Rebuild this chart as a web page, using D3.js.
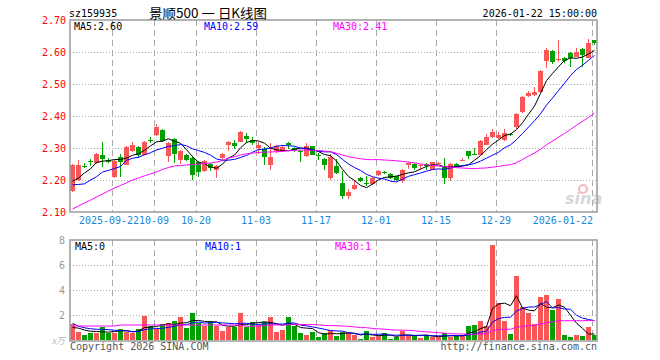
<!DOCTYPE html>
<html><head><meta charset="utf-8">
<script src="https://cdn.jsdelivr.net/npm/d3@7"></script>
<style>body{margin:0;background:#fff}svg{display:block}</style>
</head><body><svg id="c" width="660" height="360"></svg>
<script>
const dates = ["2025-09-11","2025-09-12","2025-09-15","2025-09-16","2025-09-17","2025-09-18","2025-09-19","2025-09-22","2025-09-23","2025-09-24","2025-09-25","2025-09-26","2025-09-29","2025-09-30",
"2025-10-09","2025-10-10","2025-10-13","2025-10-14","2025-10-15","2025-10-16","2025-10-17","2025-10-20","2025-10-21","2025-10-22","2025-10-23","2025-10-24","2025-10-27","2025-10-28","2025-10-29","2025-10-30","2025-10-31",
"2025-11-03","2025-11-04","2025-11-05","2025-11-06","2025-11-07","2025-11-10","2025-11-11","2025-11-12","2025-11-13","2025-11-14","2025-11-17","2025-11-18","2025-11-19","2025-11-20","2025-11-21","2025-11-24","2025-11-25","2025-11-26","2025-11-27","2025-11-28",
"2025-12-01","2025-12-02","2025-12-03","2025-12-04","2025-12-05","2025-12-08","2025-12-09","2025-12-10","2025-12-11","2025-12-12","2025-12-15","2025-12-16","2025-12-17","2025-12-18","2025-12-19","2025-12-22","2025-12-23","2025-12-24","2025-12-25","2025-12-26","2025-12-29","2025-12-30","2025-12-31",
"2026-01-05","2026-01-06","2026-01-07","2026-01-08","2026-01-09","2026-01-12","2026-01-13","2026-01-14","2026-01-15","2026-01-16","2026-01-19","2026-01-20","2026-01-21","2026-01-22"];

const opens = [2.167,2.200,2.245,2.258,2.252,2.278,2.262,2.209,2.273,2.248,2.290,2.303,2.279,2.325,
2.340,2.356,2.276,2.328,2.262,2.278,2.269,2.255,2.229,2.250,2.232,2.268,2.310,2.316,2.320,2.338,2.325,
2.300,2.296,2.248,2.290,2.292,2.316,2.300,2.290,2.275,2.305,2.278,2.266,2.206,2.245,2.190,2.151,2.172,2.206,2.190,2.186,
2.216,2.225,2.220,2.212,2.196,2.248,2.251,2.243,2.250,2.232,2.251,2.240,2.206,2.250,2.261,2.290,2.280,2.279,2.310,2.334,2.332,2.326,2.345,
2.365,2.413,2.463,2.466,2.474,2.572,2.603,2.575,2.582,2.598,2.585,2.610,2.582,2.637];
const closes = [2.247,2.248,2.243,2.256,2.280,2.267,2.257,2.260,2.255,2.304,2.310,2.279,2.318,2.323,
2.365,2.322,2.316,2.280,2.292,2.263,2.217,2.224,2.260,2.238,2.245,2.281,2.319,2.306,2.351,2.328,2.315,
2.310,2.272,2.271,2.305,2.302,2.308,2.295,2.288,2.307,2.279,2.275,2.248,2.273,2.222,2.149,2.164,2.184,2.197,2.186,2.206,
2.229,2.222,2.205,2.200,2.232,2.253,2.237,2.248,2.243,2.255,2.253,2.206,2.250,2.244,2.264,2.274,2.278,2.322,2.335,2.350,2.341,2.348,2.343,
2.405,2.458,2.473,2.476,2.540,2.606,2.570,2.578,2.573,2.580,2.600,2.590,2.627,2.627];
const highs = [2.249,2.262,2.252,2.266,2.284,2.320,2.270,2.262,2.280,2.306,2.318,2.306,2.322,2.335,
2.375,2.358,2.318,2.330,2.294,2.282,2.276,2.258,2.264,2.252,2.248,2.283,2.321,2.325,2.353,2.348,2.335,
2.320,2.302,2.315,2.308,2.306,2.319,2.304,2.295,2.315,2.307,2.285,2.268,2.280,2.265,2.227,2.172,2.200,2.208,2.214,2.208,
2.231,2.228,2.222,2.214,2.234,2.255,2.253,2.250,2.252,2.257,2.255,2.270,2.252,2.252,2.268,2.292,2.300,2.326,2.345,2.360,2.350,2.360,2.348,
2.408,2.461,2.479,2.490,2.545,2.611,2.605,2.637,2.585,2.600,2.612,2.612,2.640,2.639];
const lows = [2.163,2.198,2.236,2.244,2.250,2.240,2.252,2.205,2.208,2.246,2.288,2.270,2.277,2.315,
2.338,2.320,2.255,2.253,2.250,2.260,2.200,2.210,2.225,2.229,2.206,2.261,2.290,2.297,2.318,2.317,2.308,
2.282,2.248,2.232,2.285,2.289,2.296,2.288,2.257,2.273,2.277,2.264,2.230,2.200,2.218,2.140,2.140,2.170,2.195,2.182,2.184,
2.214,2.219,2.203,2.198,2.190,2.235,2.230,2.230,2.232,2.230,2.249,2.187,2.196,2.240,2.259,2.266,2.277,2.277,2.308,2.332,2.328,2.322,2.338,
2.359,2.410,2.460,2.464,2.472,2.551,2.562,2.570,2.566,2.554,2.583,2.554,2.580,2.622];
const volumes = [1.28,0.64,0.40,0.59,0.53,1.07,0.59,0.59,0.88,0.67,0.59,0.88,1.92,1.12,
0.85,1.28,1.33,1.52,1.81,0.96,2.16,1.39,1.12,1.52,1.12,0.72,1.07,1.07,2.16,1.07,1.44,
1.17,1.47,1.84,0.64,0.80,1.84,1.15,0.56,0.40,0.64,0.21,0.53,0.80,0.32,0.67,0.53,0.40,0.08,0.72,0.27,
0.32,0.53,0.11,0.21,0.75,0.40,0.32,0.16,0.40,0.27,0.21,0.53,0.27,0.37,0.37,1.12,1.20,1.52,1.12,7.60,2.96,1.55,0.48,
5.12,2.64,2.16,1.28,3.44,3.60,2.40,3.28,0.40,0.24,0.40,0.32,1.04,0.40];

const ma5Head = [2.196,2.206,2.222,2.235];
const ma10Head = [2.185,2.186,2.188,2.200,2.210,2.225,2.230,2.236,2.242];
const ma30Head = [2.109,2.119,2.128,2.137,2.147,2.156,2.166,2.175,2.183,2.191,2.200,2.206,2.213,2.219,2.225,2.233,2.239,2.244,2.245,2.247,2.248,2.250,2.252,2.253,2.256,2.261,2.269,2.273,2.278];
const vma5Head = [1.00,0.95,0.80,0.70];
const vma10Head = [1.35,1.10,0.98,0.90,0.86,0.85,0.83,0.78,0.75];
const vma30Head = [1.12,1.12,1.12,1.12,1.12,1.12,1.12,1.12,1.20,1.20,1.20,1.20,1.20,1.20,1.20,1.20,1.20,1.20,1.20,1.20,1.20,1.20,1.20,1.20,1.20,1.20,1.20,1.20,1.20];

const priceTicks = [2.10,2.20,2.30,2.40,2.50,2.60,2.70];
const volTicks = [2,4,6,8];
const tickDates = ["2025-09-22","2025-10-09","2025-10-20","2025-11-03","2025-11-17","2025-12-01","2025-12-15","2025-12-29","2026-01-22"];
const tickLabels = ["2025-09-22","10-09","10-20","11-03","11-17","12-01","12-15","12-29","2026-01-22"];
const mainLegend = ["MA5:2.60","MA10:2.59","MA30:2.41"];
const volLegend = ["MA5:0","MA10:1","MA30:1"];
const titleCode = "sz159935";
const titleName = "景顺500 一 日K线图";
const titleTime = "2026-01-22 15:00:00";

const RED = "#f95757", GREEN = "#00a000";
const maColors = ["#000000","#0000ff","#ff00ff"];
const MONO = "'DejaVu Sans Mono', monospace";

function ma(vals, n, head){ return vals.map((v,i)=> i < n-1 ? head[i] : d3.mean(vals.slice(i-n+1,i+1))); }

const svg = d3.select("#c");
const L = 70, R = 597;
const x = d3.scaleBand().domain(dates).range([69.5, 597.5]).paddingInner(1/6).paddingOuter(1/12);
const bw = x.bandwidth();
const cx = d => x(d) + bw/2;
const y = d3.scaleLinear().domain([2.10,2.70]).range([212,20]);
const vy = d3.scaleLinear().domain([0,8]).range([340,240]);

const up = i => closes[i] >= opens[i];

function panel(top, bottom, yScale, ticks){
  const g = svg.append("g");
  g.selectAll("line.h").data(ticks.filter(t => yScale(t) > top+1 && yScale(t) < bottom-1)).join("line")
    .attr("x1", L).attr("x2", R).attr("y1", t => Math.round(yScale(t))+0.5).attr("y2", t => Math.round(yScale(t))+0.5)
    .attr("stroke","#aaa").attr("stroke-dasharray","1,2");
  g.selectAll("line.v").data(tickDates).join("line")
    .attr("x1", d => Math.round(x(d))+0.5).attr("x2", d => Math.round(x(d))+0.5)
    .attr("y1", top).attr("y2", bottom)
    .attr("stroke","#aaa").attr("stroke-dasharray","6,4");
  return g;
}
function frame(top, bottom){
  svg.append("rect").attr("x", L).attr("y", top).attr("width", R-L).attr("height", bottom-top)
    .attr("fill","none").attr("stroke","#a0a0a0").attr("stroke-width",1.6);
}

// ---------- main panel ----------
panel(20, 212, y, priceTicks);
const idx = d3.range(dates.length);
const cg = svg.append("g").attr("shape-rendering","crispEdges");
cg.selectAll("line.w").data(idx).join("line")
  .attr("x1", i => cx(dates[i])).attr("x2", i => cx(dates[i]))
  .attr("y1", i => y(highs[i])).attr("y2", i => y(lows[i]))
  .attr("stroke", i => up(i) ? RED : GREEN);
cg.selectAll("rect.b").data(idx).join("rect")
  .attr("x", i => x(dates[i])).attr("width", bw)
  .attr("y", i => y(Math.max(opens[i],closes[i])))
  .attr("height", i => Math.max(1, Math.abs(y(opens[i]) - y(closes[i]))))
  .attr("fill", i => up(i) ? RED : GREEN);

const line = (ys) => d3.line().x((v,i) => cx(dates[i])).y(v => ys(v));
[ma(closes,5,ma5Head), ma(closes,10,ma10Head), ma(closes,30,ma30Head)].forEach((s,k) => {
  svg.append("path").datum(s).attr("d", line(y)).attr("fill","none")
    .attr("stroke", maColors[k]).attr("stroke-width",1);
});

// watermark
const wm = svg.append("g").attr("opacity",0.55);
wm.append("circle").attr("cx",583).attr("cy",189).attr("r",4).attr("fill","none").attr("stroke","#f08080").attr("stroke-width",2);
wm.append("text").attr("x",565).attr("y",204).text("sina")
  .attr("font-family","Verdana, 'DejaVu Sans', sans-serif").attr("font-style","italic").attr("font-weight","bold")
  .attr("font-size",16).attr("fill","#b8b8b8");

frame(20, 212);

// y axis
const ya = svg.append("g").attr("transform",`translate(${L},0)`)
  .call(d3.axisLeft(y).tickValues(priceTicks).tickFormat(d3.format(".2f")).tickSize(0).tickPadding(4));
ya.select(".domain").remove();
ya.selectAll("text").attr("font-family",MONO).attr("font-size",10).attr("fill","#f00");

// x axis (labels centred on the grid line, first nudged left, last right-aligned)
const last = tickDates.length-1;
const xa = svg.append("g").attr("transform",`translate(0,212)`)
  .call(d3.axisBottom(x).tickValues(tickDates).tickFormat((d,i) => tickLabels[i]).tickSize(0).tickPadding(5));
xa.select(".domain").remove();
xa.selectAll("text").attr("font-family",MONO).attr("font-size",10).attr("fill","#1a88d6")
  .attr("text-anchor",(d,i) => i === last ? "end" : "middle")
  .attr("x",(d,i) => i === last ? -1.5 : (i === 0 ? -5.5 : -2.5));

// legends
const legX = [74, 204, 333];
svg.selectAll("text.ml").data(mainLegend).join("text").attr("class","ml")
  .attr("x",(d,i)=>legX[i]).attr("y",30).text(d=>d)
  .attr("font-family",MONO).attr("font-size",10).attr("fill",(d,i)=>maColors[i]);

// title
svg.append("text").attr("x",69).attr("y",17).text(titleCode).attr("font-family",MONO).attr("font-size",10).attr("fill","#000");
svg.append("text").attr("x",149).attr("y",18).text(titleName).attr("font-family","'Noto Sans CJK SC', sans-serif")
  .attr("font-size",13).attr("fill","#000").attr("textLength",118).attr("lengthAdjust","spacingAndGlyphs");
svg.append("text").attr("x",597).attr("y",17).attr("text-anchor","end").text(titleTime).attr("font-family",MONO).attr("font-size",10).attr("fill","#000");

// ---------- volume panel ----------
panel(240, 340, vy, volTicks);
const vg = svg.append("g").attr("shape-rendering","crispEdges");
vg.selectAll("rect").data(idx).join("rect")
  .attr("x", i => x(dates[i])).attr("width", bw)
  .attr("y", i => vy(volumes[i])).attr("height", i => 340 - vy(volumes[i]))
  .attr("fill", i => up(i) ? RED : GREEN);
[ma(volumes,5,vma5Head), ma(volumes,10,vma10Head), ma(volumes,30,vma30Head)].forEach((s,k) => {
  svg.append("path").datum(s).attr("d", line(vy)).attr("fill","none")
    .attr("stroke", maColors[k]).attr("stroke-width",1);
});
frame(240, 341);

const va = svg.append("g").attr("transform",`translate(${L},0)`)
  .call(d3.axisLeft(vy).tickValues(volTicks).tickFormat(d3.format("d")).tickSize(0).tickPadding(5));
va.select(".domain").remove();
va.selectAll("text").attr("font-family",MONO).attr("font-size",10).attr("fill","#999");
svg.append("text").attr("x",65).attr("y",344).attr("text-anchor","end").text("x万")
  .attr("font-family","'Noto Sans CJK SC', sans-serif").attr("font-style","italic").attr("font-size",9).attr("fill","#bbb");

const vlegX = [75, 205, 335];
svg.selectAll("text.vl").data(volLegend).join("text").attr("class","vl")
  .attr("x",(d,i)=>vlegX[i]).attr("y",250).text(d=>d)
  .attr("font-family",MONO).attr("font-size",10).attr("fill",(d,i)=>maColors[i]);

svg.append("text").attr("x",70).attr("y",350).text("Copyright 2026 SINA.COM")
  .attr("font-family",MONO).attr("font-size",10).attr("fill","#555");
svg.append("text").attr("x",597).attr("y",350).attr("text-anchor","end").text("http://finance.sina.com.cn")
  .attr("font-family",MONO).attr("font-size",10).attr("fill","#555");
</script></body></html>
